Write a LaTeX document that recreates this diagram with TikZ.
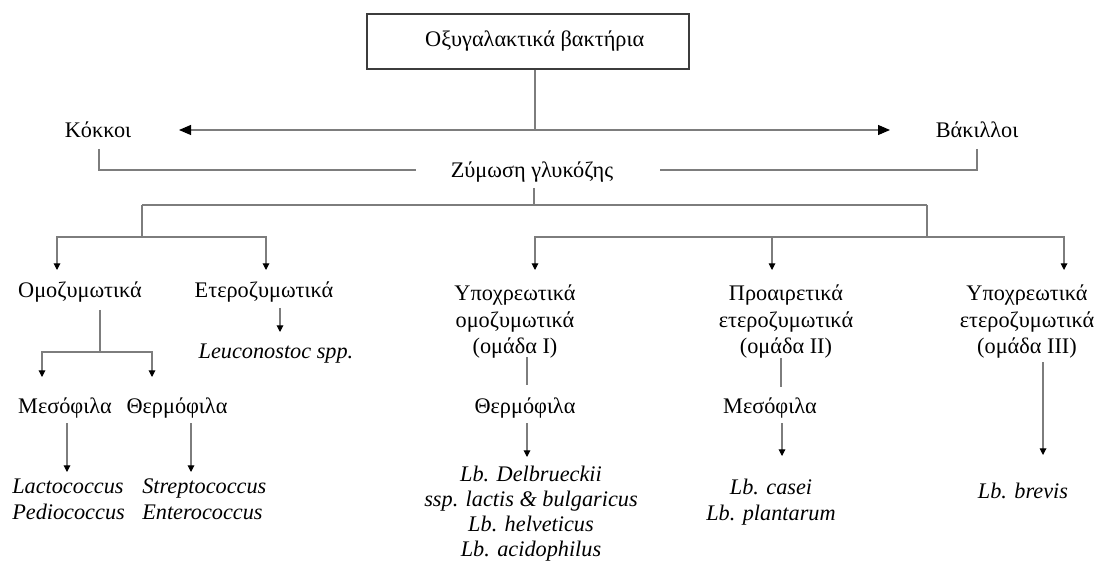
\documentclass[tikz,border=0pt]{standalone}
\usepackage{fontspec}
\setmainfont{Liberation Serif}
\usetikzlibrary{arrows.meta}
\definecolor{ln}{RGB}{125,125,125}
\definecolor{bx}{RGB}{60,60,60}
\begin{document}
\begin{tikzpicture}[x=0.75pt,y=-0.75pt,
  txt/.style={inner sep=0pt, font=\fontsize{16.7}{19.6}\selectfont},
  itx/.style={inner sep=0pt, font=\fontsize{16.7}{19.6}\selectfont\itshape},
  itxt/.style={inner sep=0pt, font=\fontsize{16.7}{18.75}\selectfont\itshape},
  conn/.style={draw=ln, line width=0.8pt},
  dtip/.style={conn, -{Triangle[width=5pt,length=5pt,color=black]}},
  htip/.style={conn, -{Triangle[width=7.5pt,length=9pt,color=black]}},
  topbox/.style={draw=bx, line width=1.1pt, minimum width=241.5pt, minimum height=41.25pt, inner sep=0pt, font=\fontsize{16.7}{19.6}\selectfont}]
\useasboundingbox (0,0) rectangle (1098,566);

% nodes
\node[topbox] (top) at (528,41.5) {\hspace*{10pt}Οξυγαλακτικά βακτήρια};
\node[txt, anchor=base] (kok) at (98,138) {Κόκκοι};
\node[txt, anchor=base] (bak) at (977,138) {Βάκιλλοι};
\node[txt, anchor=base] (zym) at (532,178) {Ζύμωση γλυκόζης};
\node[txt, anchor=base] (omo) at (80,298) {Ομοζυμωτικά};
\node[txt, anchor=base] (het) at (264,298) {Ετεροζυμωτικά};
\node[itx, anchor=base] (leu) at (276,358) {Leuconostoc spp.};
\node[txt, anchor=base] (mes1) at (65,413) {Μεσόφιλα};
\node[txt, anchor=base] (the1) at (177,413) {Θερμόφιλα};
\node[itx, align=left, anchor=north west] (lp) at (12,478.6) {Lactococcus\\Pediococcus};
\node[itx, align=left, anchor=north west] (se) at (142,478.6) {Streptococcus\\Enterococcus};
\node[txt, align=center, anchor=north] (g1) at (515,285) {Υποχρεωτικά\\ομοζυμωτικά\\(ομάδα I)};
\node[txt, align=center, anchor=north] (g2) at (786,285) {Προαιρετικά\\ετεροζυμωτικά\\(ομάδα II)};
\node[txt, align=center, anchor=north] (g3) at (1027,285) {Υποχρεωτικά\\ετεροζυμωτικά\\(ομάδα III)};
\node[txt, anchor=base] (the2) at (525,413) {Θερμόφιλα};
\node[txt, anchor=base] (mes2) at (770,413) {Μεσόφιλα};
\node[itxt, align=center, anchor=north] (lbs1) at (531,465.6) {Lb. Delbrueckii\\ssp. lactis \& bulgaricus\\Lb. helveticus\\Lb. acidophilus};
\node[itx, align=center, anchor=north] (lbs2) at (771,478.6) {Lb. casei\\Lb. plantarum};
\node[itx, anchor=base] (lbs3) at (1023,498) {Lb. brevis};

% coordinates
\coordinate (hub) at (535,130);
\coordinate (kokT) at (179,130);
\coordinate (bakT) at (890,130);
\coordinate (kA) at (99,149);
\coordinate (kB) at (416,170);
\coordinate (bA) at (977,149);
\coordinate (bB) at (660,170);
\coordinate (z1) at (534,188);
\coordinate (z2) at (534,205);
\coordinate (hL) at (142,205);
\coordinate (hR) at (927,205);
\coordinate (lL) at (142,237);
\coordinate (rL) at (927,237);
\coordinate (a1) at (57,270);
\coordinate (a2) at (266,270);
\coordinate (a3) at (535,270);
\coordinate (a4) at (772,270);
\coordinate (a5) at (1064,270);
\coordinate (o1) at (100,310);
\coordinate (o2) at (100,352);
\coordinate (b1) at (42,377);
\coordinate (b2) at (152,377);
\coordinate (e1) at (280,308);
\coordinate (e2) at (280,332);
\coordinate (m1a) at (67,423);
\coordinate (m1b) at (67,472);
\coordinate (t1a) at (191,423);
\coordinate (t1b) at (191,472);
\coordinate (g1a) at (527,357);
\coordinate (g1b) at (527,385);
\coordinate (t2a) at (527,423);
\coordinate (t2b) at (527,457);
\coordinate (g2a) at (781,358);
\coordinate (g2b) at (781,387);
\coordinate (m2a) at (782,423);
\coordinate (m2b) at (782,456);
\coordinate (g3a) at (1043,362);
\coordinate (g3b) at (1043,455);

% connectors
\draw[conn] (top.south -| hub) -- (hub);
\draw[htip] (hub) -- (kokT);
\draw[htip] (hub) -- (bakT);
\draw[conn] (kA) |- (kB);
\draw[conn] (bA) |- (bB);
\draw[conn] (z1) -- (z2);
\draw[conn] (hL) -- (hR);
\draw[conn] (hL) -- (lL);
\draw[conn] (hR) -- (rL);
\draw[dtip] (lL) -| (a1);
\draw[dtip] (lL) -| (a2);
\draw[dtip] (rL) -| (a3);
\draw[dtip] (rL -| a4) -- (a4);
\draw[dtip] (rL) -| (a5);
\draw[conn] (o1) -- (o2);
\draw[dtip] (o2) -| (b1);
\draw[dtip] (o2) -| (b2);
\draw[dtip] (e1) -- (e2);
\draw[dtip] (m1a) -- (m1b);
\draw[dtip] (t1a) -- (t1b);
\draw[conn] (g1a) -- (g1b);
\draw[dtip] (t2a) -- (t2b);
\draw[conn] (g2a) -- (g2b);
\draw[dtip] (m2a) -- (m2b);
\draw[dtip] (g3a) -- (g3b);
\end{tikzpicture}
\end{document}
